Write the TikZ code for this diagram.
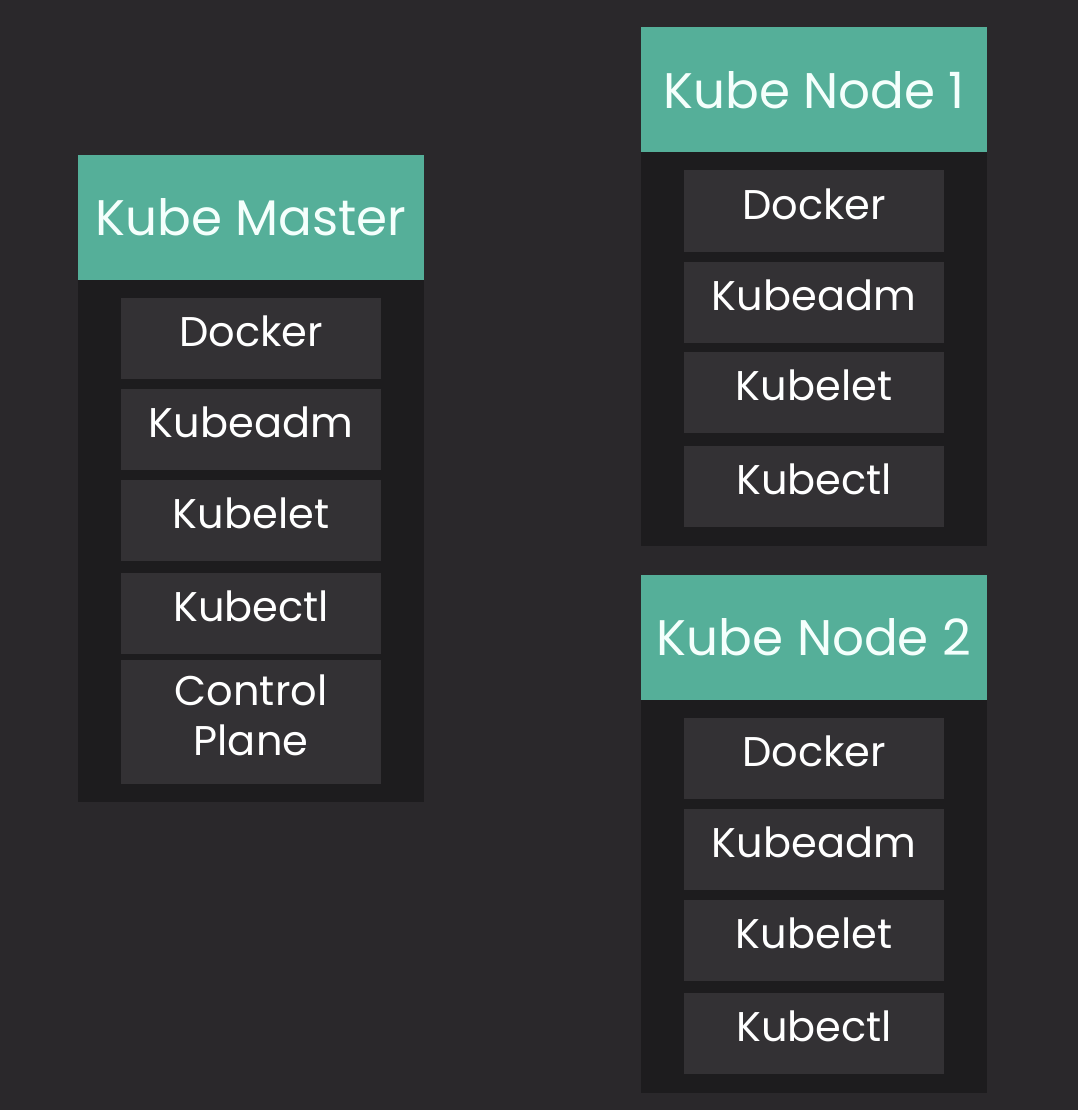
\documentclass[tikz,border=0pt]{standalone}
\usepackage{fontspec}
\setmainfont{Poppins}
\usetikzlibrary{positioning}
\definecolor{bgcolor}{HTML}{2A282B}
\definecolor{panelcolor}{HTML}{1D1C1E}
\definecolor{itemcolor}{HTML}{333134}
\definecolor{headcolor}{HTML}{55AF99}
\definecolor{textcolor}{HTML}{F4FFFC}
\tikzstyle{header} = [rectangle, text centered, align=center, fill=headcolor,
                      text=textcolor, minimum width=346pt, minimum height=125pt,
                      inner sep=0pt, font=\fontsize{50}{58}\selectfont]
\tikzstyle{item} = [rectangle, text centered, align=center, fill=itemcolor,
                    text=white, minimum width=260pt, minimum height=81pt,
                    inner sep=0pt, text depth=14pt,
                    font=\fontsize{41.5}{50}\selectfont]
\newcommand{\drawPanel}[4]
{
    \fill [panelcolor] (#1,#2) rectangle (#3,#4);
}

\begin{document}
\begin{tikzpicture}[x=1pt, y=-1pt]
\fill [bgcolor] (0,0) rectangle (1078,1110);
\useasboundingbox (0,0) rectangle (1078,1110);

% master
\drawPanel{78}{280}{424}{802}
\node (master) [header] at (251,217.5) {Kube Master};
\node (mdocker) [item] at (251,338.5) {Docker};
\node (mkubeadm) [item] at (251,429.5) {Kubeadm};
\node (mkubelet) [item] at (251,520.5) {Kubelet};
\node (mkubectl) [item] at (251,613.5) {Kubectl};
\node (mcontrol) [item, minimum height=124pt] at (251,722) {Control\\Plane};

% node 1
\drawPanel{641}{152}{987}{546}
\node (node1) [header] at (814,90) {Kube Node 1};
\node (adocker) [item] at (814,211) {Docker};
\node (akubeadm) [item] at (814,302) {Kubeadm};
\node (akubelet) [item] at (814,392.5) {Kubelet};
\node (akubectl) [item] at (814,486) {Kubectl};

% node 2
\drawPanel{641}{699}{987}{1093}
\node (node2) [header] at (814,637) {Kube Node 2};
\node (bdocker) [item] at (814,758.5) {Docker};
\node (bkubeadm) [item] at (814,849.5) {Kubeadm};
\node (bkubelet) [item] at (814,940.5) {Kubelet};
\node (bkubectl) [item] at (814,1033.5) {Kubectl};

\end{tikzpicture}
\end{document}
